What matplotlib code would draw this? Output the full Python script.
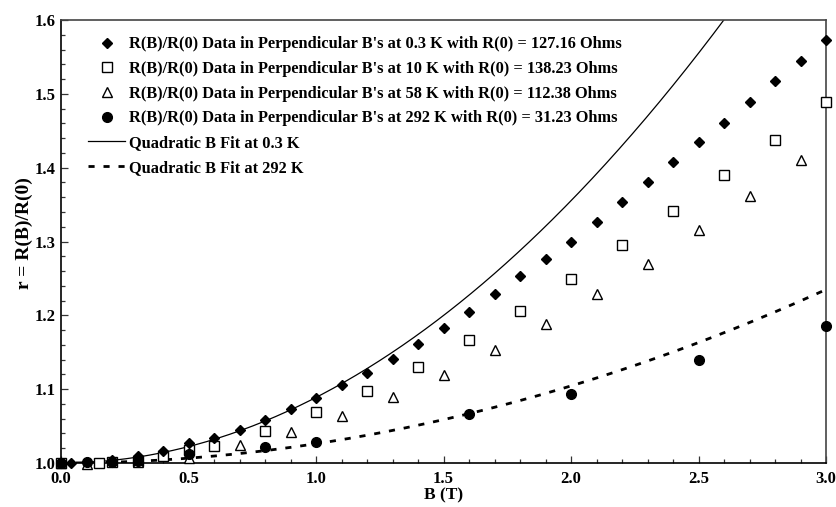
import numpy as np
import matplotlib
matplotlib.use("Agg")
import matplotlib.pyplot as plt
from matplotlib.ticker import MultipleLocator, FormatStrFormatter

plt.rcParams['font.family'] = ['Liberation Serif', 'DejaVu Serif']
plt.rcParams['font.weight'] = 'bold'

# 0.3 K data
b_03 = [0.0, 0.04, 0.1, 0.2, 0.3, 0.4, 0.5, 0.6, 0.7, 0.8, 0.9, 1.0, 1.1, 1.2, 1.3, 1.4, 1.5,
        1.6, 1.7, 1.8, 1.9, 2.0, 2.1, 2.2, 2.3, 2.4, 2.5, 2.6, 2.7, 2.8, 2.9, 3.0]
r_03 = [1.000, 1.000, 1.001, 1.004, 1.009, 1.016, 1.027, 1.034, 1.045, 1.058, 1.073, 1.088, 1.105,
        1.122, 1.141, 1.161, 1.183, 1.205, 1.229, 1.253, 1.276, 1.300, 1.327, 1.353, 1.380,
        1.408, 1.435, 1.461, 1.489, 1.517, 1.544, 1.573]
# 10 K data
b_10 = [0.0, 0.15, 0.2, 0.3, 0.4, 0.5, 0.6, 0.8, 1.0, 1.2, 1.4, 1.6, 1.8, 2.0, 2.2, 2.4, 2.6, 2.8, 3.0]
r_10 = [1.000, 1.000, 1.001, 1.003, 1.010, 1.017, 1.023, 1.044, 1.069, 1.098, 1.130, 1.167, 1.206,
        1.249, 1.295, 1.341, 1.390, 1.438, 1.489]
# 58 K data
b_58 = [0.0, 0.1, 0.3, 0.5, 0.7, 0.9, 1.1, 1.3, 1.5, 1.7, 1.9, 2.1, 2.3, 2.5, 2.7, 2.9]
r_58 = [1.000, 0.999, 1.002, 1.007, 1.025, 1.042, 1.064, 1.090, 1.119, 1.153, 1.188, 1.229, 1.270,
        1.316, 1.362, 1.411]
# 292 K data
b_292 = [0.0, 0.1, 0.2, 0.3, 0.5, 0.8, 1.0, 1.6, 2.0, 2.5, 3.0]
r_292 = [1.000, 1.001, 1.002, 1.003, 1.012, 1.021, 1.028, 1.067, 1.094, 1.139, 1.186]

# quadratic fit coefficients r = 1 + c*B^2
c_03 = 0.0888
c_292 = 0.0261

labels = ["R(B)/R(0) Data in Perpendicular B's at 0.3 K with R(0) = 127.16 Ohms",
          "R(B)/R(0) Data in Perpendicular B's at 10 K with R(0) = 138.23 Ohms",
          "R(B)/R(0) Data in Perpendicular B's at 58 K with R(0) = 112.38 Ohms",
          "R(B)/R(0) Data in Perpendicular B's at 292 K with R(0) = 31.23 Ohms",
          "Quadratic B Fit at 0.3 K",
          "Quadratic B Fit at 292 K"]

fig = plt.figure(figsize=(8.36, 5.07), dpi=100)
ax = fig.add_axes([61/836, 1-463/507, (826-61)/836, (463-20)/507])

bf = np.linspace(0, 3, 400)
h1, = ax.plot(b_03, r_03, 'D', color='black', ms=5.5, ls='none', label=labels[0], clip_on=False, zorder=5)
h2, = ax.plot(b_10, r_10, 's', mfc='white', mec='black', mew=1.0, ms=6.5, ls='none', label=labels[1], clip_on=False, zorder=4)
h3, = ax.plot(b_58, r_58, '^', mfc='white', mec='black', mew=1.0, ms=7, ls='none', label=labels[2], clip_on=False, zorder=4)
h4, = ax.plot(b_292, r_292, 'o', color='black', ms=7, ls='none', label=labels[3], clip_on=False, zorder=5)
h5, = ax.plot(bf, 1 + c_03 * bf**2, '-', color='black', lw=0.9, label=labels[4])
h6, = ax.plot(bf, 1 + c_292 * bf**2, color='black', lw=2.0, ls=(0, (2.2, 3.2)), label=labels[5])

ax.set_xlim(0, 3)
ax.set_ylim(1.0, 1.6)
ax.xaxis.set_major_locator(MultipleLocator(0.5))
ax.xaxis.set_minor_locator(MultipleLocator(0.1))
ax.yaxis.set_major_locator(MultipleLocator(0.1))
ax.yaxis.set_minor_locator(MultipleLocator(0.02))
ax.xaxis.set_major_formatter(FormatStrFormatter('%.1f'))
ax.yaxis.set_major_formatter(FormatStrFormatter('%.1f'))
ax.tick_params(which='both', direction='in', top=False, right=False, labelsize=12, width=0.9, color='#333333')
ax.tick_params(which='major', length=5)
ax.tick_params(which='minor', length=3)
ax.tick_params(axis='x', which='major', pad=5.5)
ax.tick_params(axis='y', which='major', pad=4)
for lab in ax.get_xticklabels() + ax.get_yticklabels():
    lab.set_fontweight('bold')
for s in ax.spines.values():
    s.set_color('#444444')
    s.set_linewidth(1.2)
ax.spines['bottom'].set_color('black')
ax.spines['left'].set_color('black')

ax.set_xlabel('B (T)', fontsize=12.5, fontweight='bold')
ax.set_ylabel('r = R(B)/R(0)', fontsize=14, fontweight='bold')
ax.xaxis.set_label_coords(0.5, -0.056)
ax.yaxis.set_label_coords(-0.036, 0.52)

leg = ax.legend(handles=[h1, h2, h3, h4, h5, h6], loc='upper left', frameon=False,
                fontsize=11.8, handlelength=2.25, handletextpad=0.25, labelspacing=0.53,
                bbox_to_anchor=(0.027, 0.978), borderaxespad=0.0)
for t in leg.get_texts():
    t.set_fontweight('bold')

fig.savefig('out.png', dpi=100)
